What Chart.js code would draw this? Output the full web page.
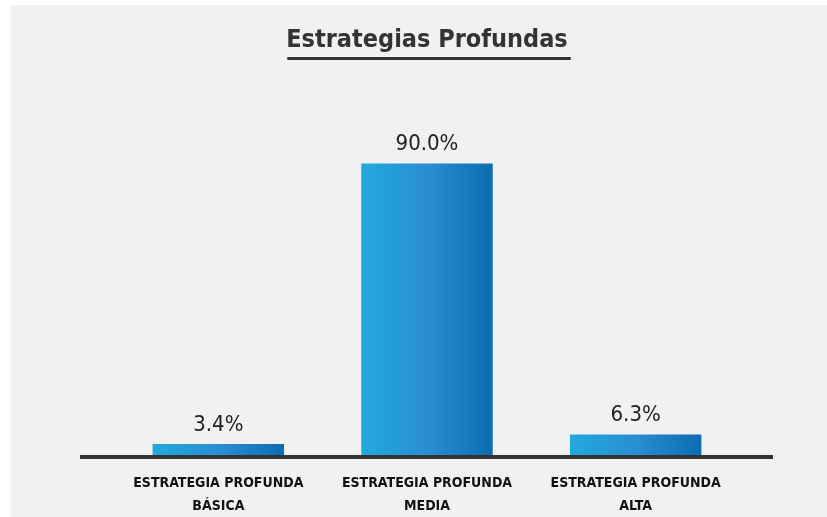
<!DOCTYPE html>
<html lang="es">
<head>
    <meta charset="UTF-8">
    <title>Estrategias Profundas</title>
    <style>
        html, body {
            margin: 0;
            padding: 0;
            background: #ffffff;
        }
        #wrap {
            position: absolute;
            left: 11px;
            top: 5px;
            width: 816px;
            height: 512px;
            background: #f1f1f1;
        }
    </style>
    <script src="https://cdn.jsdelivr.net/npm/chart.js"></script>
</head>
<body>
    <div id="wrap"><canvas id="chart" width="816" height="512"></canvas></div>

    <script>
        const chartTitle = "Estrategias Profundas";
        const categories = [
            ["ESTRATEGIA PROFUNDA", "BÁSICA"],
            ["ESTRATEGIA PROFUNDA", "MEDIA"],
            ["ESTRATEGIA PROFUNDA", "ALTA"]
        ];
        const percentages = [3.4, 90.0, 6.3];

        const narrow = "'DejaVu Sans Condensed', sans-serif";
        const barPct = 0.63;

        // gradiente horizontal de cada barra
        function barGradient(c) {
            const chart = c.chart;
            if (!chart.chartArea) return '#1a8fd0';
            const xs = chart.scales.x;
            const cx = xs.getPixelForValue(c.dataIndex);
            const half = xs.width / categories.length * barPct / 2;
            const g = chart.ctx.createLinearGradient(cx - half, 0, cx + half, 0);
            g.addColorStop(0, '#21aadd');
            g.addColorStop(0.5, '#2a8ed0');
            g.addColorStop(1, '#0d6cb1');
            return g;
        }

        // linea base, etiquetas de valor y subrayado del titulo
        const extras = {
            id: 'extras',
            afterDatasetsDraw(chart) {
                const ctx = chart.ctx;
                const area = chart.chartArea;
                ctx.save();
                ctx.strokeStyle = '#333333';
                ctx.lineWidth = 4;
                ctx.beginPath();
                ctx.moveTo(69, area.bottom + 2);
                ctx.lineTo(762, area.bottom + 2);
                ctx.stroke();

                ctx.fillStyle = '#222222';
                ctx.font = "22px " + narrow;
                ctx.textAlign = 'center';
                ctx.textBaseline = 'bottom';
                chart.getDatasetMeta(0).data.forEach((bar, i) => {
                    ctx.fillText(percentages[i].toFixed(1) + '%', bar.x, bar.y - 8);
                });

                const t = chart.options.plugins.title;
                ctx.font = "bold " + t.font.size + "px " + narrow;
                const w = ctx.measureText(chartTitle).width;
                const cx = chart.width / 2 + 10;
                ctx.lineWidth = 3;
                ctx.beginPath();
                ctx.moveTo(cx - w / 2 - 1, 53.5);
                ctx.lineTo(cx + w / 2 + 1, 53.5);
                ctx.stroke();
                ctx.restore();
            }
        };

        new Chart(document.getElementById('chart'), {
            type: 'bar',
            data: {
                labels: categories,
                datasets: [{
                    data: percentages,
                    backgroundColor: barGradient,
                    borderWidth: 0,
                    categoryPercentage: 1,
                    barPercentage: barPct
                }]
            },
            options: {
                responsive: false,
                animation: false,
                layout: {
                    padding: { left: 103, right: 87, top: 0, bottom: 0 }
                },
                plugins: {
                    legend: { display: false },
                    tooltip: { enabled: false },
                    title: {
                        display: true,
                        text: chartTitle,
                        color: '#333333',
                        font: { family: narrow, size: 25, weight: 'bold', lineHeight: 1.2 },
                        padding: { top: 20, bottom: 76 }
                    }
                },
                scales: {
                    x: {
                        grid: { display: false, drawTicks: false, tickLength: 0 },
                        border: { display: false },
                        ticks: {
                            color: '#111111',
                            font: { family: narrow, size: 14, weight: 'bold', lineHeight: 1.64 },
                            padding: 17,
                            maxRotation: 0
                        },
                        afterFit(scale) {
                            scale.height = 62;
                        }
                    },
                    y: {
                        display: false,
                        min: 0,
                        max: 100
                    }
                }
            },
            plugins: [extras]
        });
    </script>
</body>
</html>
